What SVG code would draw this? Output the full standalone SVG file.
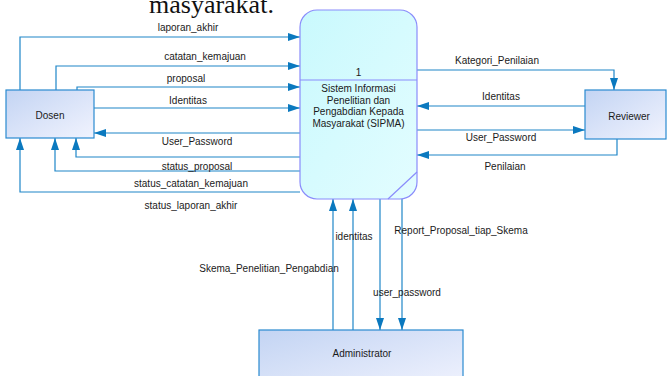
<svg xmlns="http://www.w3.org/2000/svg" width="671" height="376" viewBox="0 0 671 376">
<defs>
<linearGradient id="ent" x1="0" y1="0" x2="1" y2="1">
<stop offset="0" stop-color="#c3d4f3"/>
<stop offset="1" stop-color="#f1f3fe"/>
</linearGradient>
<linearGradient id="proc" x1="0" y1="0" x2="1" y2="1">
<stop offset="0" stop-color="#c9f9fd"/>
<stop offset="1" stop-color="#e3fdff"/>
</linearGradient>
<marker id="arr" markerUnits="userSpaceOnUse" markerWidth="12" markerHeight="8" refX="12" refY="4" orient="auto">
<path d="M0,0 L12,4 L0,8 z" fill="#0b79bf"/>
</marker>
<style>
.t{font-family:"Liberation Sans",Arial,sans-serif;font-size:10px;fill:#1a1a1a;text-anchor:middle}
.c{fill:none;stroke:#1f86c8;stroke-width:1.2}
.e{fill:url(#ent);stroke:#2a8ad0;stroke-width:1.2}
</style>
</defs>
<rect width="671" height="376" fill="#ffffff"/>
<text x="149" y="13" style="font-family:'Liberation Serif','Times New Roman',serif;font-size:26px;fill:#111">masyarakat.</text>

<g id="connectors">
<polyline class="c" marker-end="url(#arr)" points="20,90 20,37 300,37"/>
<polyline class="c" marker-end="url(#arr)" points="56,90 56,66 300,66"/>
<polyline class="c" marker-end="url(#arr)" points="77,90 77,87 300,87"/>
<polyline class="c" marker-end="url(#arr)" points="94,108 300,108"/>
<polyline class="c" marker-end="url(#arr)" points="300,133 94,133"/>
<polyline class="c" marker-end="url(#arr)" points="300,157 76,157 76,138"/>
<polyline class="c" marker-end="url(#arr)" points="300,171 55,171 55,138"/>
<polyline class="c" marker-end="url(#arr)" points="300,192 20,192 20,138"/>
<polyline class="c" marker-end="url(#arr)" points="417,70 614,70 614,90"/>
<polyline class="c" marker-end="url(#arr)" points="585,106 417,106"/>
<polyline class="c" marker-end="url(#arr)" points="417,130 585,130"/>
<polyline class="c" marker-end="url(#arr)" points="617,139 617,155 417,155"/>
<polyline class="c" marker-end="url(#arr)" points="333,330 333,199"/>
<polyline class="c" marker-end="url(#arr)" points="353,330 353,199"/>
<polyline class="c" marker-end="url(#arr)" points="380,199 380,330"/>
<polyline class="c" marker-end="url(#arr)" points="402,199 402,330"/>
<text class="t" x="188" y="31">laporan_akhir</text>
<text class="t" x="205" y="60">catatan_kemajuan</text>
<text class="t" x="186" y="82">proposal</text>
<text class="t" x="188" y="104">Identitas</text>
<text class="t" x="197" y="145">User_Password</text>
<text class="t" x="197" y="170">status_proposal</text>
<text class="t" x="191" y="187">status_catatan_kemajuan</text>
<text class="t" x="191" y="209">status_laporan_akhir</text>
<text class="t" x="497" y="64">Kategori_Penilaian</text>
<text class="t" x="501" y="100">Identitas</text>
<text class="t" x="501" y="141">User_Password</text>
<text class="t" x="505" y="170">Penilaian</text>
<text class="t" x="269" y="272">Skema_Penelitian_Pengabdian</text>
<text class="t" x="354" y="240">identitas</text>
<text class="t" x="461" y="234">Report_Proposal_tiap_Skema</text>
<text class="t" x="407" y="296">user_password</text>
</g>

<g id="process">
<rect x="300" y="10" width="117" height="189" rx="17" ry="17" fill="url(#proc)" stroke="#8a8cfb" stroke-width="1.2"/>
<line x1="300" y1="80" x2="417" y2="80" stroke="#8a8cfb" stroke-width="1.2"/>
<line x1="417" y1="172" x2="388" y2="199" stroke="#8a8cfb" stroke-width="1.2"/>
<text class="t" x="358.5" y="76">1</text>
<text class="t" x="358.5" y="92">Sistem Informasi</text>
<text class="t" x="358.5" y="103.5">Penelitian dan</text>
<text class="t" x="358.5" y="115">Pengabdian Kepada</text>
<text class="t" x="358.5" y="126.5">Masyarakat (SIPMA)</text>
</g>

<g id="dosen">
<rect class="e" x="6" y="90" width="88" height="48"/>
<text class="t" x="50" y="119">Dosen</text>
</g>

<g id="reviewer">
<rect class="e" x="585" y="90" width="81" height="49"/>
<text class="t" x="629" y="120">Reviewer</text>
</g>

<g id="administrator">
<rect class="e" x="259" y="330" width="204" height="60"/>
<text class="t" x="362" y="357">Administrator</text>
</g>
</svg>
